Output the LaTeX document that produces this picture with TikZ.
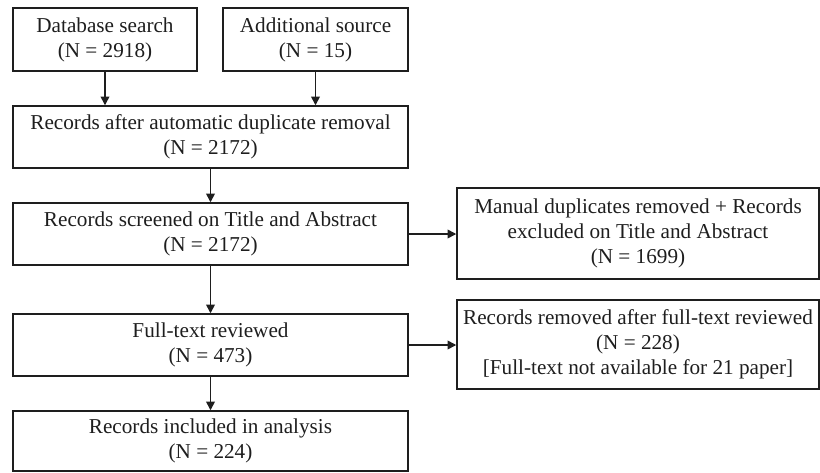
\documentclass[tikz,border=0pt]{standalone}
\usepackage{fontspec}
\setmainfont{Liberation Serif}
\usetikzlibrary{arrows.meta}
\definecolor{boxK}{RGB}{30,30,30}

\begin{document}
\begin{tikzpicture}[x=0.75pt,y=-0.75pt,>={Triangle[length=6.5pt,width=6.5pt]},
  box/.style={draw=boxK,line width=1.1pt,align=center,text=boxK,inner sep=0pt,font=\fontsize{15.9}{18.8}\selectfont},
  flow/.style={->,draw=boxK,line width=1.1pt}]
\useasboundingbox (0,0) rectangle (820,472);
\node[box,minimum width=138pt,minimum height=47.25pt] (db) at (105,39.5) {Database search\\(N = 2918)};
\node[box,minimum width=138.75pt,minimum height=47.25pt] (add) at (315.5,39.5) {Additional source\\(N = 15)};
\node[box,minimum width=296.25pt,minimum height=46.5pt] (auto) at (210.5,137) {Records after automatic duplicate removal\\(N = 2172)};
\node[box,minimum width=296.25pt,minimum height=46.5pt] (screen) at (210.5,234) {Records screened on Title and Abstract\\(N = 2172)};
\node[box,minimum width=296.25pt,minimum height=46.5pt] (full) at (210.5,345) {Full-text reviewed\\(N = 473)};
\node[box,minimum width=296.25pt,minimum height=45pt] (incl) at (210.5,441) {Records included in analysis\\(N = 224)};
\node[box,minimum width=271.5pt,minimum height=68.25pt] (manual) at (638,233.5) {Manual duplicates removed + Records\\excluded on Title and Abstract\\(N = 1699)};
\node[box,minimum width=271.5pt,minimum height=66.75pt] (removed) at (638,344.5) {Records removed after full-text reviewed\\(N = 228)\\{[}Full-text not available for 21 paper{]}};
\draw[flow] (db.south) -- (db.south |- auto.north);
\draw[flow] (add.south) -- (add.south |- auto.north);
\draw[flow] (auto) -- (screen);
\draw[flow] (screen) -- (full);
\draw[flow] (full) -- (incl);
\draw[flow] (screen.east) -- (screen.east -| manual.west);
\draw[flow] (full.east) -- (full.east -| removed.west);
\end{tikzpicture}
\end{document}
